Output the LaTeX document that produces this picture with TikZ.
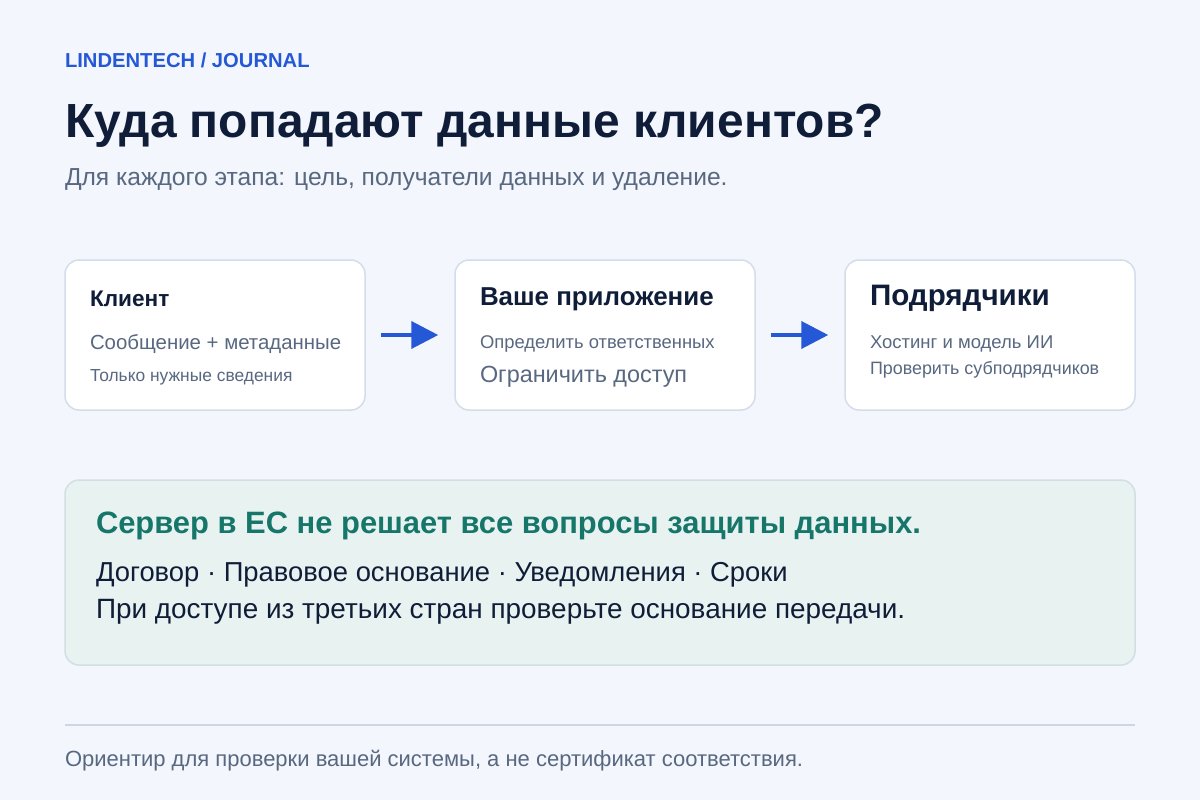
\documentclass[tikz,border=0pt]{standalone}
\usepackage{fontspec}
\setmainfont{Liberation Sans}
\usetikzlibrary{arrows.meta}
\definecolor{bgc}{HTML}{F3F6FC}
\definecolor{navy}{HTML}{0F1D38}
\definecolor{slate}{HTML}{586880}
\definecolor{brand}{HTML}{2458D6}
\definecolor{cardline}{HTML}{D4DDEA}
\definecolor{greenfill}{HTML}{E8F3F1}
\definecolor{greenline}{HTML}{D2DEE5}
\definecolor{teal}{HTML}{17766A}
\definecolor{rulec}{HTML}{CBD7E4}
\tikzset{
  card/.style={draw=cardline, line width=1.5pt, fill=white, rounded corners=14pt, minimum height=150pt, inner sep=0pt},
  txt/.style={anchor=base west, inner sep=0pt, outer sep=0pt},
  flow/.style={draw=brand, line width=4pt, -{Triangle[length=27pt,width=27pt]}, shorten <=15pt, shorten >=16pt},
}
\begin{document}
\begin{tikzpicture}[x=1pt,y=-1pt]
\useasboundingbox[fill=bgc] (0,0) rectangle (1200,800);
% header
\node[txt, text=brand, font=\fontsize{20.2}{24}\selectfont\bfseries] (brandtxt) at (65,68) {LINDENTECH / JOURNAL};
\node[txt, text=navy, font=\fontsize{47.9}{54}\selectfont\bfseries] (title) at (65,137) {Куда попадают данные клиентов?};
\node[txt, text=slate, font=\fontsize{24.6}{28}\selectfont] (subtitle) at (65,185) {Для каждого этапа: цель, получатели данных и удаление.};
% cards
\node[card, minimum width=300pt] (b1) at (215,335) {};
\node[card, minimum width=300pt] (b2) at (605,335) {};
\node[card, minimum width=290pt] (b3) at (990,335) {};
% card 1
\node[txt, text=navy, font=\fontsize{22.6}{26}\selectfont\bfseries] (b1t) at (90,306) {Клиент};
\node[txt, text=slate, font=\fontsize{20.4}{24}\selectfont] (b1a) at (90,349) {Сообщение + метаданные};
\node[txt, text=slate, font=\fontsize{17.4}{21}\selectfont] (b1b) at (90,381) {Только нужные сведения};
% card 2
\node[txt, text=navy, font=\fontsize{25.9}{30}\selectfont\bfseries] (b2t) at (480,305) {Ваше приложение};
\node[txt, text=slate, font=\fontsize{18.4}{22}\selectfont] (b2a) at (480,348) {Определить ответственных};
\node[txt, text=slate, font=\fontsize{23.4}{27}\selectfont] (b2b) at (480,382) {Ограничить доступ};
% card 3
\node[txt, text=navy, font=\fontsize{29.6}{34}\selectfont\bfseries] (b3t) at (870,305) {Подрядчики};
\node[txt, text=slate, font=\fontsize{18.5}{22}\selectfont] (b3a) at (870,348) {Хостинг и модель ИИ};
\node[txt, text=slate, font=\fontsize{17.9}{21}\selectfont] (b3b) at (870,374) {Проверить субподрядчиков};
% arrows
\draw[flow] (b1.east) -- (b2.west);
\draw[flow] (b2.east) -- (b3.west);
% note box
\node[draw=greenline, line width=1.5pt, fill=greenfill, rounded corners=14pt, minimum width=1070pt, minimum height=185pt, inner sep=0pt] (note) at (600,572.5) {};
\node[txt, text=teal, font=\fontsize{30.9}{35}\selectfont\bfseries] (notet) at (96,533) {Сервер в ЕС не решает все вопросы защиты данных.};
\node[txt, text=navy, font=\fontsize{27.4}{31}\selectfont] (notea) at (96,581) {Договор · Правовое основание · Уведомления · Сроки};
\node[txt, text=navy, font=\fontsize{27.9}{32}\selectfont] (noteb) at (96,618) {При доступе из третьих стран проверьте основание передачи.};
% footer
\coordinate (rl) at (65,725);
\coordinate (rr) at (1135,725);
\draw[rulec, line width=1.5pt] (rl) -- (rr);
\node[txt, text=slate, font=\fontsize{22}{26}\selectfont] (footer) at (65,766) {Ориентир для проверки вашей системы, а не сертификат соответствия.};
\end{tikzpicture}
\end{document}
